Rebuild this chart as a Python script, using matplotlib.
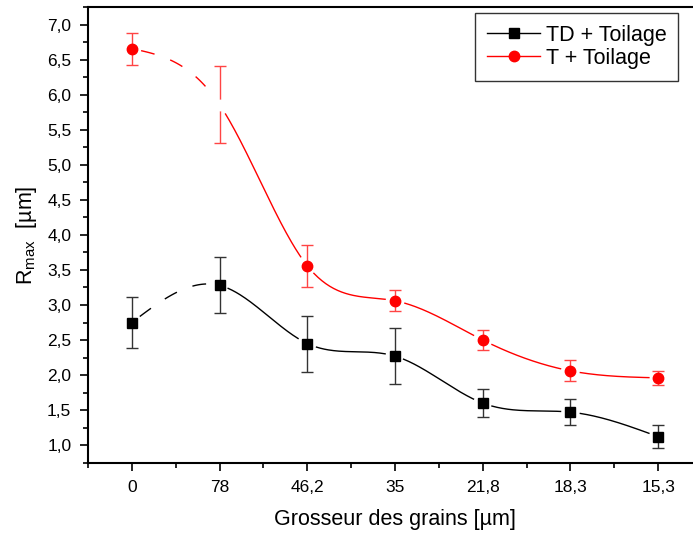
import numpy as np
import matplotlib
matplotlib.use("Agg")
import matplotlib.pyplot as plt
from matplotlib.ticker import MultipleLocator, FuncFormatter

plt.rcParams['font.family'] = ['Liberation Sans', 'DejaVu Sans']

# Grain size categories (equally spaced on the axis)
categories = ["0", "78", "46,2", "35", "21,8", "18,3", "15,3"]

# TD + Toilage
td_values = [2.75, 3.28, 2.45, 2.27, 1.60, 1.47, 1.12]
td_errors = [0.37, 0.40, 0.40, 0.40, 0.20, 0.19, 0.165]

# T + Toilage
t_values = [6.66, 5.86, 3.56, 3.06, 2.50, 2.06, 1.96]
t_errors = [0.23, 0.55, 0.30, 0.15, 0.14, 0.15, 0.10]


def natural_spline(x, y, n=400):
    x = np.asarray(x, float)
    y = np.asarray(y, float)
    m = len(x)
    h = np.diff(x)
    A = np.zeros((m, m))
    b = np.zeros(m)
    A[0, 0] = A[-1, -1] = 1.0
    for i in range(1, m - 1):
        A[i, i - 1] = h[i - 1]
        A[i, i] = 2 * (h[i - 1] + h[i])
        A[i, i + 1] = h[i]
        b[i] = 3 * ((y[i + 1] - y[i]) / h[i] - (y[i] - y[i - 1]) / h[i - 1])
    c = np.linalg.solve(A, b)
    xs = np.linspace(x[0], x[-1], n)
    ys = np.empty_like(xs)
    for k, xv in enumerate(xs):
        i = min(np.searchsorted(x, xv, side='right') - 1, m - 2)
        dx = xv - x[i]
        bb = (y[i + 1] - y[i]) / h[i] - h[i] * (c[i + 1] + 2 * c[i]) / 3
        d = (c[i + 1] - c[i]) / (3 * h[i])
        ys[k] = y[i] + bb * dx + c[i] * dx ** 2 + d * dx ** 3
    return xs, ys


fig = plt.figure(figsize=(6.93, 5.34), dpi=100)
ax = fig.add_axes([0.127, 0.1324, 0.886, 0.8539])

xpos = np.arange(len(categories))
px_x, px_y = 87.7, 70.0  # pixels per data unit, for the gap around symbols


def draw_series(vals, errs, color, ecolor, marker, label, hollow_idx=None):
    xs, ys = natural_spline(xpos, vals)
    # leave a small gap around each symbol
    mask = np.ones_like(xs, bool)
    for xv, yv in zip(xpos, vals):
        dist = np.hypot((xs - xv) * px_x, (ys - yv) * px_y)
        mask &= dist > 9
    ys_m = np.where(mask, ys, np.nan)
    first = xs <= xpos[1]
    ax.plot(xs[first], ys_m[first], color=color, lw=1.0,
            dashes=(10, 12), zorder=2)
    ax.plot(xs[~first], ys_m[~first], color=color, lw=1.0, zorder=2)
    ax.errorbar(xpos, vals, yerr=errs, fmt='none', ecolor=ecolor,
                elinewidth=1.0, capsize=4.5, capthick=1.0, zorder=3)
    idx = [i for i in range(len(vals)) if i != hollow_idx]
    ax.plot(xpos[idx], np.array(vals)[idx], linestyle='none', marker=marker,
            ms=7.5, mfc=color, mec=color, zorder=4)
    if hollow_idx is not None:
        ax.plot([xpos[hollow_idx]], [vals[hollow_idx]], linestyle='none',
                marker=marker, ms=7.5, mfc='white', mec='white', zorder=4)
    # legend handle
    ax.plot([], [], color=color, lw=1.0, marker=marker, ms=7.5,
            mfc=color, mec=color, label=label)


draw_series(td_values, td_errors, 'black', '#333333', 's', 'TD + Toilage')
draw_series(t_values, t_errors, '#ff0000', '#ff4444', 'o', 'T + Toilage',
            hollow_idx=1)

ax.set_xlim(-0.5, 6.5)
ax.set_ylim(0.74, 7.25)
ax.set_xticks(xpos)
ax.set_xticklabels(categories)
ax.xaxis.set_minor_locator(MultipleLocator(0.5))
ax.yaxis.set_major_locator(MultipleLocator(0.5))
ax.yaxis.set_minor_locator(MultipleLocator(0.25))
ax.yaxis.set_major_formatter(FuncFormatter(lambda v, p: f"{v:.1f}".replace('.', ',')))

ax.tick_params(which='both', direction='out', top=False, right=False,
               labelsize=12.5, width=1.2)
ax.tick_params(which='major', length=6, pad=6)
ax.tick_params(which='minor', length=3.5)
for s in ax.spines.values():
    s.set_linewidth(1.5)

ax.set_xlabel("Grosseur des grains [\u00b5m]", fontsize=15.5, labelpad=10)
ax.set_ylabel("R$_{\\mathregular{max}}$  [\u00b5m]", fontsize=15.5, labelpad=6)

leg = ax.legend(loc='upper left', bbox_to_anchor=(0.630, 0.9875),
                fontsize=15.5, frameon=True, fancybox=False,
                edgecolor='black', handlelength=2.5, borderpad=0.55,
                labelspacing=0.1, handletextpad=0.25, borderaxespad=0)
leg.get_frame().set_linewidth(1.0)

fig.savefig("out.png", dpi=100)
